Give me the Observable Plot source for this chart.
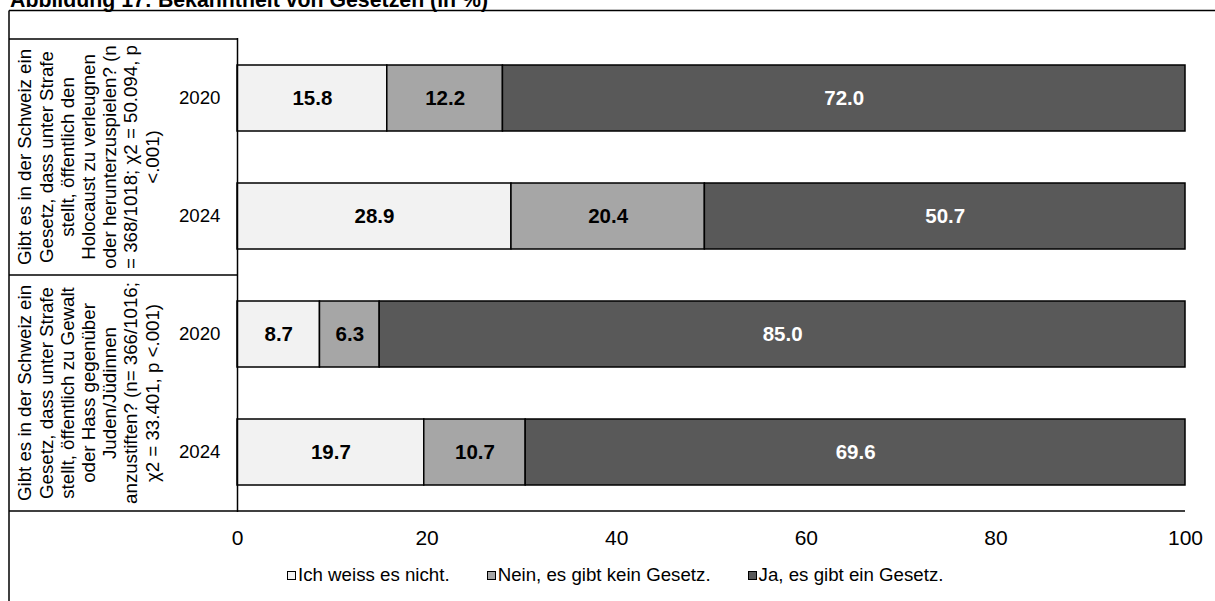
<!DOCTYPE html>
<html>
<head>
<meta charset="utf-8">
<script src="https://cdn.jsdelivr.net/npm/d3@7"></script>
<script src="https://cdn.jsdelivr.net/npm/@observablehq/plot@0.6"></script>
<style>
  html, body { margin: 0; padding: 0; background: #fff; }
  body { width: 1215px; height: 601px; position: relative; overflow: hidden; font-family: "Liberation Sans", Arial, sans-serif; }
  #title { position: absolute; left: 10px; top: -12px; font-weight: bold; font-size: 21.3px; line-height: 24px; white-space: nowrap; color: #000; }
  #chart { position: absolute; left: 0; top: 0; }
  #legend { position: absolute; left: 287px; top: 564px; display: flex; gap: 37px; font-size: 18.7px; color: #000; white-space: nowrap; }
  .item { display: flex; align-items: center; gap: 2px; }
  .sw { width: 7px; height: 7px; border: 1.5px solid #000; display: inline-block; }
</style>
</head>
<body>
<div id="title">Abbildung 17: Bekanntheit von Gesetzen (in %)</div>
<div id="chart"></div>
<div id="legend"></div>
<script>
// ---- data ----
const categories = ["Ich weiss es nicht.", "Nein, es gibt kein Gesetz.", "Ja, es gibt ein Gesetz."];
const colors = ["#f2f2f2", "#a6a6a6", "#595959"];
const questionLines = [
  ["Gibt es in der Schweiz ein", "Gesetz, dass unter Strafe", "stellt, öffentlich den", "Holocaust zu verleugnen", "oder herunterzuspielen? (n", "= 368/1018; χ2 = 50.094, p", "<.001)"],
  ["Gibt es in der Schweiz ein", "Gesetz, dass unter Strafe", "stellt, öffentlich zu Gewalt", "oder Hass gegenüber", "Juden/Jüdinnen", "anzustiften? (n= 366/1016;", "χ2 = 33.401, p <.001)"]
];
const years = ["2020", "2024"];
const dontKnow = [15.8, 28.9, 8.7, 19.7];
const noLaw = [12.2, 20.4, 6.3, 10.7];
const yesLaw = [72.0, 50.7, 85.0, 69.6];
const xTicks = [0, 20, 40, 60, 80, 100];

// ---- build tables ----
const rows = [];
questionLines.forEach((q, qi) => years.forEach(yr => rows.push({key: qi + "|" + yr, q: qi, year: yr})));
const series = [dontKnow, noLaw, yesLaw];
const data = [];
rows.forEach((r, i) => categories.forEach((c, ci) => data.push({row: r.key, resp: c, value: series[ci][i]})));

const FONT = "'Liberation Sans', Arial, sans-serif";

const plot = Plot.plot({
  width: 1215,
  height: 601,
  marginTop: 38,
  marginBottom: 89,
  marginLeft: 237,
  marginRight: 30,
  style: {fontFamily: FONT, color: "#000", background: "transparent", overflow: "visible"},
  x: {domain: [0, 100], label: null},
  y: {domain: rows.map(r => r.key), paddingInner: 0.44, paddingOuter: 0.22, label: null},
  color: {domain: categories, range: colors},
  marks: [
    Plot.barX(data, Plot.stackX({y: "row", x: "value", z: "resp", order: categories, fill: "resp", stroke: "#000", strokeWidth: 1.5})),
    Plot.text(data, Plot.stackX({
      y: "row", x: "value", z: "resp", order: categories,
      text: d => d.value.toFixed(1),
      fill: d => d.resp === categories[2] ? "#fff" : "#000",
      fontWeight: "bold", fontSize: 20.5
    })),
    Plot.ruleX([0], {stroke: "#000", strokeWidth: 1.5}),
    Plot.axisX({ticks: xTicks, tickSize: 0, tickPadding: 18, fontSize: 21, label: null, tickFormat: d => String(d)}),
    Plot.axisY({tickSize: 0, tickPadding: 17, fontSize: 18.7, label: null, tickFormat: k => k.split("|")[1]})
  ]
});
document.getElementById("chart").appendChild(plot);

// ---- table lines, frame and rotated category labels ----
const ys = plot.scale("y");
const xs = plot.scale("x");
const svg = d3.select(plot);
const step = ys.step, bw = ys.bandwidth;
const yTop = ys.apply(rows[0].key) - (step - bw) / 2;
const yBottom = ys.apply(rows[rows.length - 1].key) + bw + (step - bw) / 2;
const x0 = xs.apply(0), x100 = xs.apply(100);
const g = svg.append("g").attr("stroke", "#000").attr("stroke-width", 1.5).attr("fill", "none");
// outer frame
g.append("line").attr("x1", 9).attr("x2", 1215).attr("y1", 10.5).attr("y2", 10.5);
g.append("line").attr("x1", 9).attr("x2", 9).attr("y1", 10.5).attr("y2", 601);
// table top, group separators, bottom axis line
g.append("line").attr("x1", 9).attr("x2", x0).attr("y1", yTop).attr("y2", yTop);
questionLines.forEach((q, qi) => {
  if (qi === 0) return;
  const k = rows.find(r => r.q === qi).key;
  const yy = ys.apply(k) - (step - bw) / 2;
  g.append("line").attr("x1", 9).attr("x2", x0).attr("y1", yy).attr("y2", yy);
});
g.append("line").attr("x1", 9).attr("x2", x100).attr("y1", yBottom).attr("y2", yBottom);

// rotated question labels
const lh = 21.2;
questionLines.forEach((lines, qi) => {
  const ks = rows.filter(r => r.q === qi).map(r => ys.apply(r.key) + bw / 2);
  const cy = d3.mean(ks);
  const t = svg.append("text")
    .attr("transform", `translate(88.5,${cy}) rotate(-90)`)
    .attr("text-anchor", "middle")
    .attr("font-family", FONT)
    .attr("font-size", 18.7)
    .attr("fill", "#000");
  lines.forEach((ln, i) => {
    t.append("tspan").attr("x", 0).attr("y", (i - (lines.length - 1) / 2) * lh).attr("dy", "0.35em").text(ln);
  });
});

// ---- legend ----
const legend = d3.select("#legend");
categories.forEach((c, i) => {
  const it = legend.append("div").attr("class", "item");
  it.append("span").attr("class", "sw").style("background", colors[i]);
  it.append("span").text(c);
});
</script>
</body>
</html>
